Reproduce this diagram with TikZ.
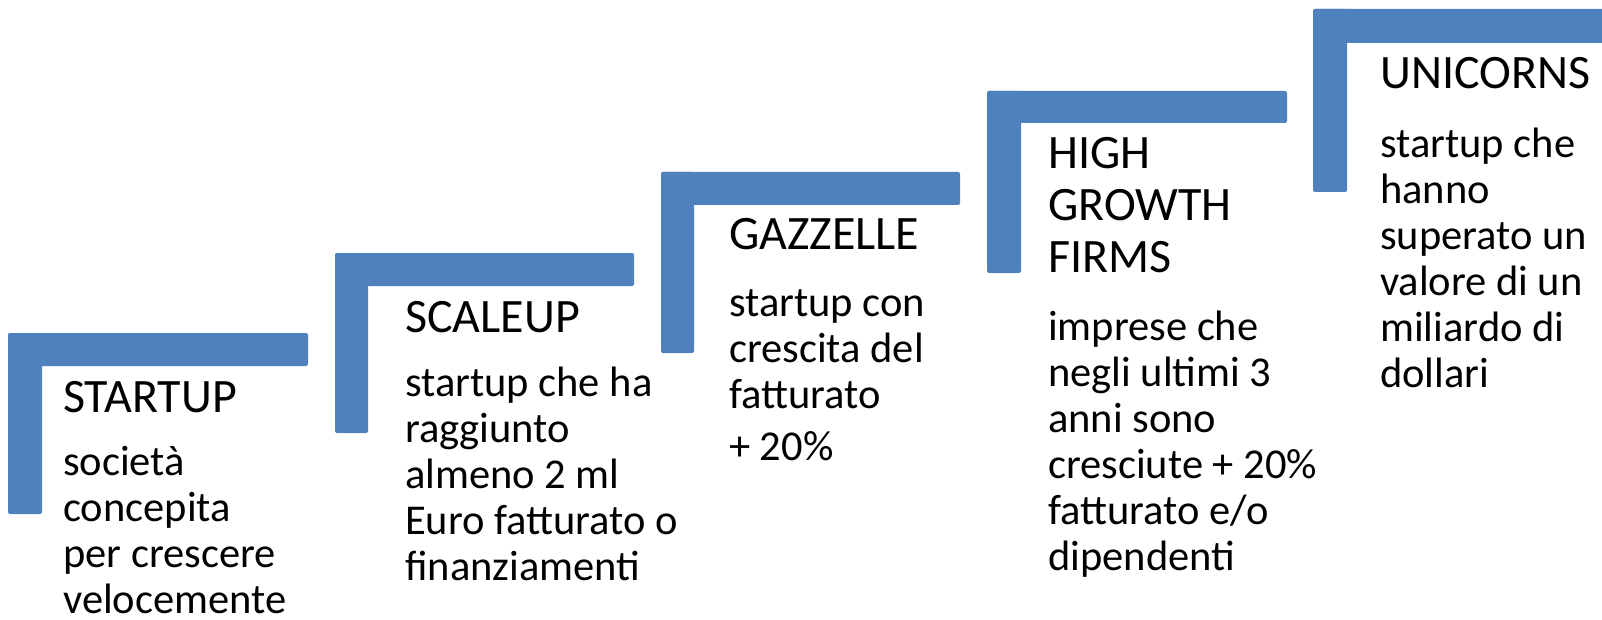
\documentclass[tikz,border=0pt]{standalone}
\usepackage{fontspec}
\setmainfont{Carlito}
\definecolor{stepblue}{HTML}{4F81BD}

\begin{document}
\begin{tikzpicture}[x=1pt,y=-1pt,
    bar/.style={fill=stepblue,rounded corners=2pt},
    title/.style={anchor=base west,inner sep=0pt,align=left,
      font=\fontsize{48}{51.5}\selectfont},
    descr/.style={anchor=base west,inner sep=0pt,align=left,
      font=\fontsize{42.5}{46}\selectfont}]
  \useasboundingbox (0,0) rectangle (1602,620);

  % step 1 (multi-line nodes sit on their last baseline)
  \fill[bar] (8,333) rectangle (308,366);
  \fill[bar] (8,333) rectangle (42,514);
  \node[title] (startup) at (63,412) {STARTUP};
  \node[descr] (startupD) at (63,613) {società\\concepita\\per crescere\\velocemente};

  % step 2
  \fill[bar] (335,253) rectangle (634,286);
  \fill[bar] (335,253) rectangle (368,433);
  \node[title] (scaleup) at (405,332) {SCALEUP};
  \node[descr] (scaleupD) at (405,580) {startup che ha\\raggiunto\\almeno 2 ml\\Euro fatturato o\\finanziamenti};

  % step 3
  \fill[bar] (661,172) rectangle (960,205);
  \fill[bar] (661,172) rectangle (694,353);
  \node[title] (gazzelle) at (729,250) {GAZZELLE};
  \node[descr] (gazzelleD) at (729,460) {startup con\\crescita del\\fatturato\\[6pt]+ 20\%};

  % step 4
  \fill[bar] (987,91) rectangle (1287,123);
  \fill[bar] (987,91) rectangle (1021,273);
  \node[title] (hgf) at (1048,272) {HIGH\\GROWTH\\FIRMS};
  \node[descr] (hgfD) at (1048,570) {imprese che\\negli ultimi 3\\anni sono\\cresciute + 20\%\\fatturato e/o\\dipendenti};

  % step 5
  \fill[bar] (1313,9) rectangle (1606,43);
  \fill[bar] (1313,9) rectangle (1347,192);
  \node[title] (unicorns) at (1380,89) {UNICORNS};
  \node[descr] (unicornsD) at (1380,387) {startup che\\hanno\\superato un\\valore di un\\miliardo di\\dollari};
\end{tikzpicture}
\end{document}
